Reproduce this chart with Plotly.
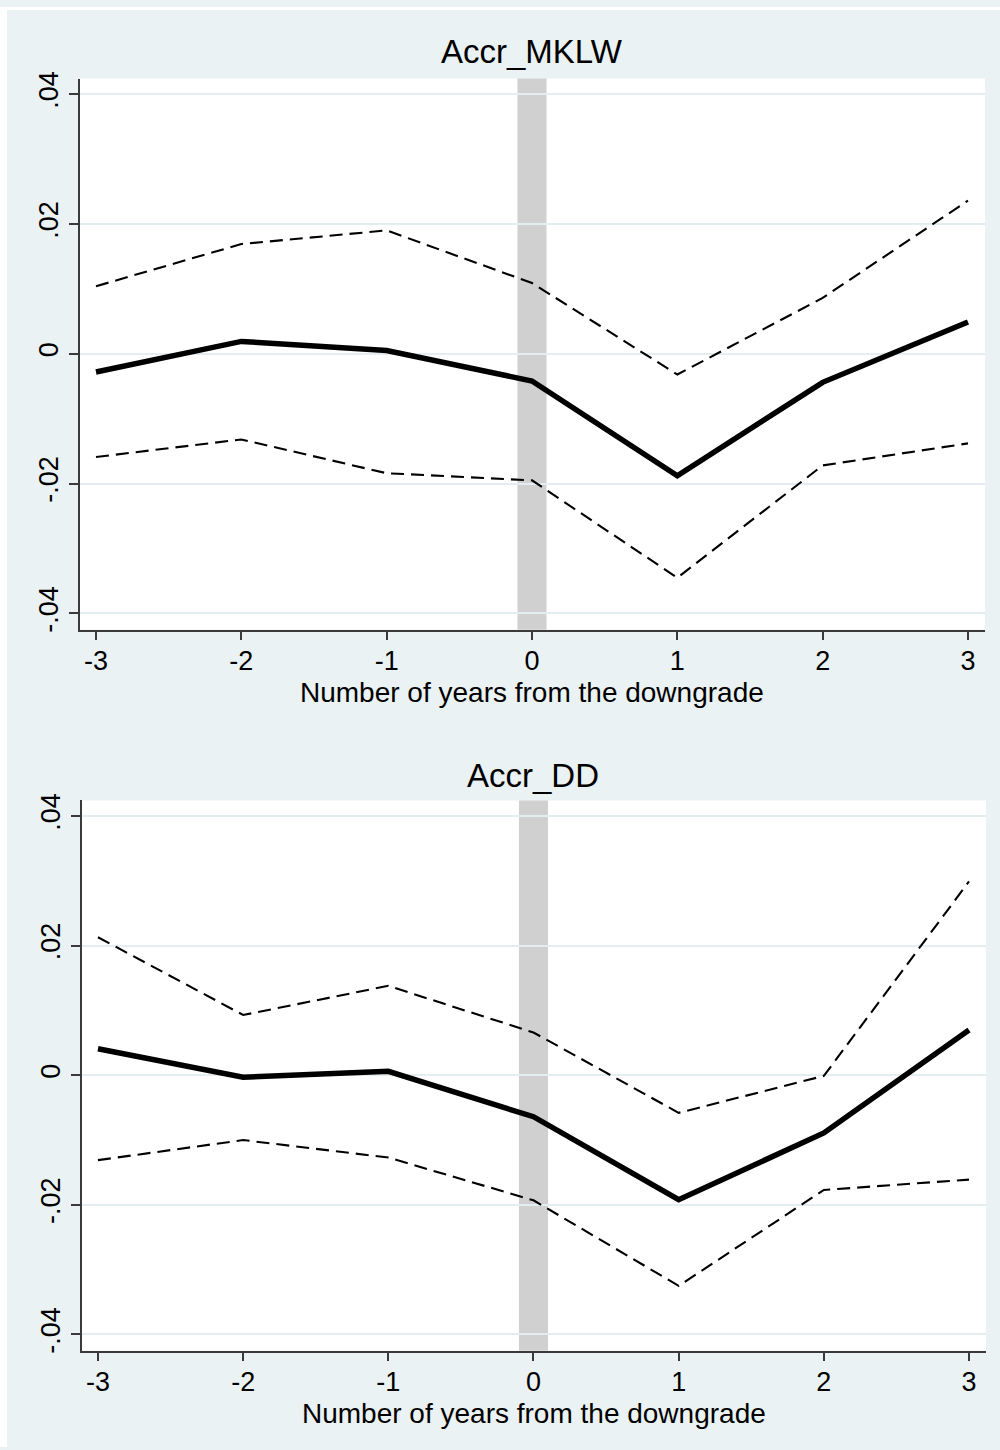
import plotly.graph_objects as go

# ---- data ----
years = [-3, -2, -1, 0, 1, 2, 3]

mklw_est = [-0.0028, 0.0019, 0.0005, -0.0042, -0.0188, -0.0044, 0.0049]
mklw_upper = [0.0104, 0.0169, 0.0190, 0.0109, -0.0032, 0.0086, 0.0236]
mklw_lower = [-0.0159, -0.0132, -0.0184, -0.0195, -0.0345, -0.0172, -0.0138]

dd_est = [0.0041, -0.0003, 0.0006, -0.0064, -0.0192, -0.0089, 0.0070]
dd_upper = [0.0213, 0.0093, 0.0138, 0.0066, -0.0058, -0.0001, 0.0299]
dd_lower = [-0.0131, -0.0100, -0.0127, -0.0193, -0.0325, -0.0177, -0.0161]

panel_titles = ["Accr_MKLW", "Accr_DD"]
x_title = "Number of years from the downgrade"
x_ticks = [-3, -2, -1, 0, 1, 2, 3]
x_ticktext = ["-3", "-2", "-1", "0", "1", "2", "3"]
y_ticks = [-0.04, -0.02, 0, 0.02, 0.04]
y_ticktext = ["-.04", "-.02", "0", ".02", ".04"]
band = [-0.1, 0.1]

# ---- style ----
W, H = 1000, 1450
BG = "#EAF2F3"
GRID = "#E4EDEF"
FONT = "Liberation Sans, Arial, sans-serif"
TICK_FS = 27
TITLE_FS = 33
AXTITLE_FS = 28

def py(px):
    return 1 - px / H

fig = go.Figure()

panels = [
    dict(est=mklw_est, up=mklw_upper, lo=mklw_lower, xdom=[80 / W, 985 / W],
         ydom=[py(627), py(72)], title_y=py(45), title_x=532 / W, axt_y=py(690), axt_x=532 / W),
    dict(est=dd_est, up=dd_upper, lo=dd_lower, xdom=[82 / W, 986 / W],
         ydom=[py(1353), py(799)], title_y=py(774), title_x=533 / W, axt_y=py(1416), axt_x=534 / W),
]

shapes = []
annotations = []
for i, p in enumerate(panels):
    n = "" if i == 0 else str(i + 1)
    xa, ya = "x" + n, "y" + n
    for series, width, dash in [(p["up"], 2.1, "13px,7px"), (p["lo"], 2.1, "13px,7px"),
                                (p["est"], 5.5, "solid")]:
        fig.add_trace(go.Scatter(x=years, y=series, mode="lines", xaxis=xa, yaxis=ya,
                                 line=dict(color="black", width=width, dash=dash),
                                 showlegend=False, hoverinfo="skip"))
    # zero line
    shapes.append(dict(type="line", xref=xa + " domain", yref=ya, x0=0, x1=1, y0=0, y1=0,
                       line=dict(color="black", width=1.6), layer="below"))
    # shaded band at the downgrade year
    shapes.append(dict(type="rect", xref=xa, yref=ya + " domain", x0=band[0], x1=band[1], y0=0, y1=1,
                       fillcolor="#D0D0D0", line=dict(width=0), layer="below"))
    axis_common = dict(showline=True, linecolor="#3A3A3A", linewidth=1.6, ticks="outside",
                       ticklen=9, tickwidth=1.6, tickcolor="#3A3A3A",
                       tickfont=dict(family=FONT, size=TICK_FS, color="black"), zeroline=False)
    fig.update_layout({
        "xaxis" + n: dict(domain=p["xdom"], range=[-3.11, 3.117], anchor=ya, tickvals=x_ticks,
                          ticktext=x_ticktext, showgrid=False, ticklabelstandoff=-3, **axis_common),
        "yaxis" + n: dict(domain=p["ydom"], range=[-0.0425, 0.0424], anchor=xa, tickvals=y_ticks,
                          ticktext=y_ticktext, showgrid=True, gridcolor=GRID, gridwidth=1.6,
                          tickangle=-90, **axis_common),
    })
    annotations.append(dict(text=panel_titles[i], x=p["title_x"], y=p["title_y"], xref="paper",
                            yref="paper", showarrow=False, xanchor="center", yanchor="middle",
                            font=dict(family=FONT, size=TITLE_FS, color="black")))
    annotations.append(dict(text=x_title, x=p["axt_x"], y=p["axt_y"], xref="paper",
                            yref="paper", showarrow=False, xanchor="center", yanchor="middle",
                            font=dict(family=FONT, size=AXTITLE_FS, color="black")))

# white strips at the left and top edges of the screenshot
shapes.append(dict(type="rect", xref="paper", yref="paper", x0=0, x1=7 / W, y0=0, y1=1,
                   fillcolor="white", line=dict(width=0), layer="below"))
shapes.append(dict(type="rect", xref="paper", yref="paper", x0=0, x1=1, y0=py(3), y1=1,
                   fillcolor="white", line=dict(width=0), layer="below"))

fig.update_layout(width=W, height=H, margin=dict(l=0, r=0, t=0, b=0),
                  paper_bgcolor=BG, plot_bgcolor="white", shapes=shapes,
                  annotations=annotations, showlegend=False)

fig.write_html("out.html", config={"displayModeBar": False},
               post_script="document.body.style.margin='0';document.body.style.overflow='hidden';")
